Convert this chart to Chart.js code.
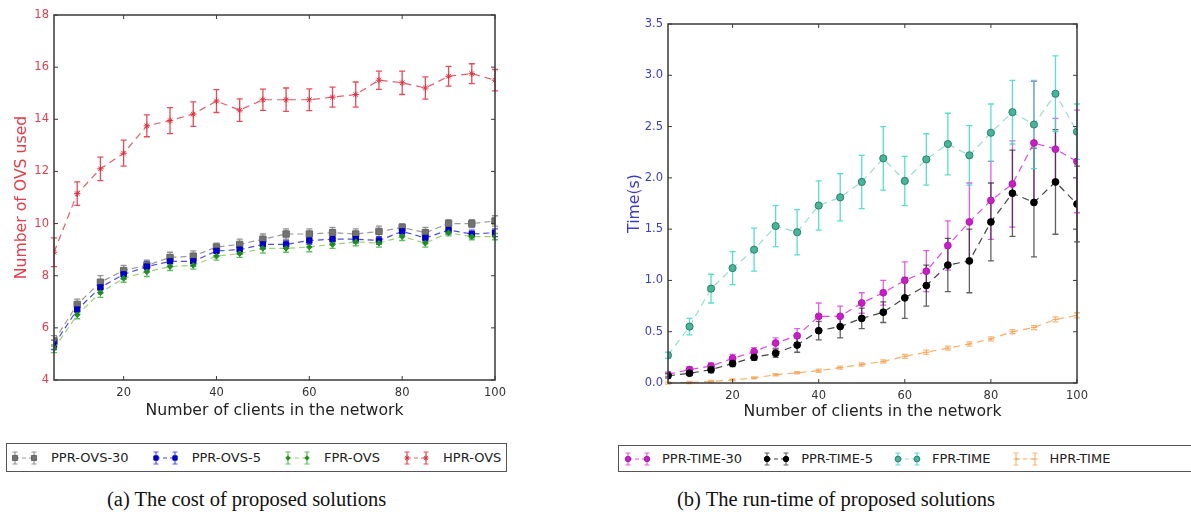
<!DOCTYPE html>
<html>
<head>
<meta charset="utf-8">
<script src="https://cdn.jsdelivr.net/npm/chart.js@4/dist/chart.umd.min.js"></script>
<style>
  body { margin: 0; background: #fff; width: 1191px; height: 516px; overflow: hidden; position: relative; }
  canvas.plot { position: absolute; top: 0; }
  .legend { position: absolute; box-sizing: border-box; border: 1.5px solid #555; display: flex; align-items: center;
            font-family: 'DejaVu Sans', sans-serif; font-size: 13px; color: #222; white-space: nowrap; }
  .legend canvas { display: block; }
  .legend .item { display: flex; align-items: center; }
  .caption { position: absolute; top: 488px; font-family: 'Liberation Serif', 'Times New Roman', serif; font-size: 20.5px; color: #111; white-space: nowrap; }
</style>
</head>
<body>
<canvas id="cost-chart" class="plot" width="595" height="430" style="left:0"></canvas>
<canvas id="time-chart" class="plot" width="596" height="430" style="left:595px"></canvas>
<div id="cost-legend" class="legend" style="left:6px; top:443px; width:501px; height:29px; padding-left:3px;"></div>
<div id="time-legend" class="legend" style="left:618px; top:445px; width:600px; height:27px; padding-left:4px;"></div>
<div class="caption" style="left:107px">(a) The cost of proposed solutions</div>
<div class="caption" style="left:677px">(b) The run-time of proposed solutions</div>
<script>
const clients = [5, 10, 15, 20, 25, 30, 35, 40, 45, 50, 55, 60, 65, 70, 75, 80, 85, 90, 95, 100];
const xTicks = [20, 40, 60, 80, 100];
const costTicks = [4, 6, 8, 10, 12, 14, 16, 18];
const timeTicks = [0, 0.5, 1, 1.5, 2, 2.5, 3, 3.5];

// (a) number of OVS used
const pprOvs30 = [5.5, 6.9, 7.75, 8.2, 8.4, 8.7, 8.75, 9.1, 9.2, 9.4, 9.6, 9.6, 9.65, 9.6, 9.7, 9.85, 9.65, 10.0, 10.0, 10.1];
const pprOvs30Err = [0.2, 0.2, 0.25, 0.2, 0.2, 0.2, 0.2, 0.15, 0.2, 0.2, 0.2, 0.2, 0.2, 0.2, 0.2, 0.15, 0.2, 0.15, 0.15, 0.2];
const pprOvs5 = [5.35, 6.7, 7.55, 8.05, 8.35, 8.55, 8.55, 8.95, 9.0, 9.2, 9.2, 9.35, 9.4, 9.4, 9.35, 9.7, 9.45, 9.75, 9.6, 9.65];
const pprOvs5Err = [0.18, 0.18, 0.2, 0.18, 0.2, 0.18, 0.18, 0.18, 0.18, 0.18, 0.15, 0.15, 0.15, 0.15, 0.15, 0.15, 0.15, 0.15, 0.15, 0.15];
const fprOvs = [5.2, 6.5, 7.35, 7.9, 8.15, 8.35, 8.4, 8.75, 8.85, 9.05, 9.05, 9.1, 9.2, 9.3, 9.25, 9.5, 9.25, 9.65, 9.5, 9.5];
const fprOvsErr = [0.15, 0.15, 0.18, 0.15, 0.18, 0.15, 0.15, 0.15, 0.15, 0.18, 0.15, 0.18, 0.15, 0.15, 0.15, 0.15, 0.15, 0.12, 0.12, 0.12];
const hprOvs = [8.9, 11.15, 12.1, 12.7, 13.75, 13.95, 14.2, 14.7, 14.35, 14.75, 14.75, 14.75, 14.85, 14.95, 15.5, 15.4, 15.2, 15.65, 15.75, 15.5];
const hprOvsErr = [0.55, 0.45, 0.45, 0.5, 0.42, 0.5, 0.47, 0.44, 0.43, 0.41, 0.45, 0.42, 0.38, 0.48, 0.35, 0.45, 0.43, 0.38, 0.38, 0.41];

// (b) run time in seconds
const pprTime30 = [0.085, 0.13, 0.165, 0.24, 0.305, 0.39, 0.46, 0.65, 0.65, 0.78, 0.88, 1.0, 1.09, 1.34, 1.57, 1.78, 1.94, 2.34, 2.28, 2.16];
const pprTime30Err = [0.02, 0.03, 0.03, 0.04, 0.04, 0.05, 0.07, 0.13, 0.1, 0.1, 0.12, 0.18, 0.2, 0.24, 0.38, 0.38, 0.42, 0.6, 0.3, 0.5];
const pprTime5 = [0.07, 0.095, 0.13, 0.19, 0.25, 0.29, 0.37, 0.51, 0.55, 0.63, 0.69, 0.83, 0.95, 1.15, 1.19, 1.57, 1.85, 1.76, 1.96, 1.745];
const pprTime5Err = [0.02, 0.02, 0.03, 0.03, 0.03, 0.04, 0.07, 0.09, 0.11, 0.1, 0.1, 0.2, 0.2, 0.26, 0.31, 0.38, 0.42, 0.53, 0.51, 0.37];
const fprTime = [0.27, 0.55, 0.92, 1.12, 1.3, 1.53, 1.47, 1.73, 1.81, 1.96, 2.19, 1.97, 2.18, 2.33, 2.22, 2.44, 2.64, 2.52, 2.82, 2.45];
const fprTimeErr = [0.03, 0.08, 0.14, 0.16, 0.21, 0.2, 0.22, 0.24, 0.23, 0.26, 0.31, 0.24, 0.25, 0.3, 0.29, 0.28, 0.31, 0.43, 0.37, 0.27];
const hprTime = [0.0, 0.005, 0.015, 0.03, 0.05, 0.08, 0.1, 0.12, 0.15, 0.18, 0.21, 0.26, 0.3, 0.34, 0.38, 0.43, 0.5, 0.54, 0.62, 0.66];
const hprTimeErr = [0.01, 0.01, 0.01, 0.01, 0.01, 0.01, 0.01, 0.015, 0.015, 0.015, 0.015, 0.02, 0.02, 0.02, 0.02, 0.02, 0.02, 0.02, 0.025, 0.025];

const FONT = 'DejaVu Sans';

function series(label, values, errors, style) {
    return {
        label,
        data: clients.map((c, i) => ({ x: c, y: values[i] })),
        errors,
        borderWidth: 1.2,
        borderDash: [6, 4],
        pointBorderWidth: 1,
        tension: 0,
        fill: false,
        ...style
    };
}

// vertical error bars with caps, matplotlib style
const errorBars = {
    id: 'errorBars',
    beforeDatasetsDraw(chart) {
        const { ctx, scales: { x, y } } = chart;
        ctx.save();
        chart.data.datasets.forEach((ds) => {
            ctx.strokeStyle = ds.errorColor;
            ctx.lineWidth = 1.3;
            ctx.beginPath();
            ds.data.forEach((pt, i) => {
                const px = x.getPixelForValue(pt.x);
                const top = y.getPixelForValue(pt.y + ds.errors[i]);
                const bot = y.getPixelForValue(pt.y - ds.errors[i]);
                ctx.moveTo(px, top); ctx.lineTo(px, bot);
                ctx.moveTo(px - 3, top); ctx.lineTo(px + 3, top);
                ctx.moveTo(px - 3, bot); ctx.lineTo(px + 3, bot);
            });
            ctx.stroke();
        });
        ctx.restore();
    }
};

// box around the axes with inward ticks
const frame = {
    id: 'frame',
    afterDraw(chart) {
        const { ctx, chartArea: a, scales: { x, y } } = chart;
        ctx.save();
        ctx.strokeStyle = '#3a3a3a';
        ctx.lineWidth = 1.5;
        ctx.strokeRect(a.left, a.top, a.right - a.left, a.bottom - a.top);
        ctx.lineWidth = 1;
        ctx.beginPath();
        x.ticks.forEach((t) => {
            const p = x.getPixelForValue(t.value);
            ctx.moveTo(p, a.bottom); ctx.lineTo(p, a.bottom - 4);
            ctx.moveTo(p, a.top); ctx.lineTo(p, a.top + 4);
        });
        y.ticks.forEach((t) => {
            const p = y.getPixelForValue(t.value);
            ctx.moveTo(a.left, p); ctx.lineTo(a.left + 4, p);
            ctx.moveTo(a.right, p); ctx.lineTo(a.right - 4, p);
        });
        ctx.stroke();
        ctx.restore();
    }
};

function makeChart(canvas, datasets, cfg) {
    return new Chart(canvas, {
        type: 'line',
        data: { datasets: datasets.map((d, i) => ({ ...d, order: datasets.length - i })) },
        plugins: [errorBars, frame],
        options: {
            responsive: false,
            animation: false,
            layout: { padding: cfg.padding },
            scales: {
                x: {
                    type: 'linear',
                    min: 5,
                    max: 100,
                    afterBuildTicks: (s) => { s.ticks = xTicks.map((v) => ({ value: v })); },
                    afterFit: (s) => { s.height = cfg.xHeight; },
                    grid: { display: false, drawTicks: false },
                    border: { display: false },
                    ticks: { color: '#333', padding: 6, font: { family: FONT, size: 11.5 } },
                    title: {
                        display: true,
                        text: 'Number of clients in the network',
                        color: '#222',
                        font: { family: FONT, size: 15.7 },
                        padding: { top: 0, bottom: cfg.xTitlePad }
                    }
                },
                y: {
                    min: cfg.yTicks[0],
                    max: cfg.yTicks[cfg.yTicks.length - 1],
                    afterBuildTicks: (s) => { s.ticks = cfg.yTicks.map((v) => ({ value: v })); },
                    afterFit: (s) => { s.width = cfg.yWidth; },
                    grid: { display: false, drawTicks: false },
                    border: { display: false },
                    ticks: { color: cfg.yColor, padding: 5, font: { family: FONT, size: 11.5 }, callback: cfg.yFormat },
                    title: {
                        display: true,
                        text: cfg.yTitle,
                        color: cfg.yColor,
                        font: { family: FONT, size: 15.7 },
                        padding: { top: cfg.yTitlePad, bottom: 0 }
                    }
                }
            },
            plugins: { legend: { display: false }, tooltip: { enabled: false } }
        }
    });
}

function drawSample(canvas, ds) {
    const ctx = canvas.getContext('2d');
    const mid = canvas.height / 2;
    const xs = [5, 24];
    ctx.strokeStyle = ds.borderColor;
    ctx.lineWidth = 1.2;
    ctx.setLineDash([4, 3]);
    ctx.beginPath(); ctx.moveTo(xs[0], mid); ctx.lineTo(xs[1], mid); ctx.stroke();
    ctx.setLineDash([]);
    ctx.strokeStyle = ds.errorColor;
    ctx.beginPath();
    xs.forEach((px) => {
        ctx.moveTo(px, mid - 6); ctx.lineTo(px, mid + 6);
        ctx.moveTo(px - 2.5, mid - 6); ctx.lineTo(px + 2.5, mid - 6);
        ctx.moveTo(px - 2.5, mid + 6); ctx.lineTo(px + 2.5, mid + 6);
    });
    ctx.stroke();
    xs.forEach((px) => {
        ctx.fillStyle = ds.pointBackgroundColor;
        ctx.strokeStyle = ds.pointBorderColor;
        ctx.lineWidth = 1;
        Chart.helpers.drawPoint(ctx, { pointStyle: ds.pointStyle, radius: ds.pointRadius * 0.8, rotation: 0, borderWidth: 1 }, px, mid);
    });
}

function buildLegend(el, datasets, gaps) {
    datasets.forEach((ds) => {
        const item = document.createElement('div');
        item.className = 'item';
        item.style.marginRight = gaps.after + 'px';
        const c = document.createElement('canvas');
        c.width = 29; c.height = 22;
        c.style.marginRight = gaps.text + 'px';
        drawSample(c, ds);
        const span = document.createElement('span');
        span.textContent = ds.label;
        item.appendChild(c);
        item.appendChild(span);
        el.appendChild(item);
    });
}

const costSets = [
    series('PPR-OVS-30', pprOvs30, pprOvs30Err, {
        borderColor: 'rgba(110,110,110,0.7)', errorColor: 'rgba(120,120,120,0.8)',
        pointStyle: 'rect', pointRadius: 4.5, pointBackgroundColor: '#727272', pointBorderColor: '#666'
    }),
    series('PPR-OVS-5', pprOvs5, pprOvs5Err, {
        borderColor: 'rgba(20,20,200,0.75)', errorColor: 'rgba(40,40,230,0.8)',
        pointStyle: 'rect', pointRadius: 3.8, pointBackgroundColor: '#0000d0', pointBorderColor: '#0000b0'
    }),
    series('FPR-OVS', fprOvs, fprOvsErr, {
        borderColor: 'rgba(110,180,40,0.65)', errorColor: 'rgba(40,170,40,0.75)',
        pointStyle: 'rectRot', pointRadius: 2.8, pointBackgroundColor: '#1e8e1e', pointBorderColor: '#1e8e1e'
    }),
    series('HPR-OVS', hprOvs, hprOvsErr, {
        borderColor: 'rgba(215,40,60,0.75)', errorColor: 'rgba(225,45,60,0.85)', borderDash: [7, 5],
        pointStyle: 'star', pointRadius: 3.2, pointBackgroundColor: '#e0303f', pointBorderColor: '#e0303f'
    })
];

const timeSets = [
    series('PPR-TIME-30', pprTime30, pprTime30Err, {
        borderColor: 'rgba(210,30,210,0.8)', errorColor: 'rgba(215,40,215,0.75)', borderDash: [7, 5],
        pointStyle: 'circle', pointRadius: 3.4, pointBackgroundColor: '#c81ec8', pointBorderColor: '#b01ab0'
    }),
    series('PPR-TIME-5', pprTime5, pprTime5Err, {
        borderColor: 'rgba(20,20,20,0.8)', errorColor: 'rgba(30,30,30,0.7)', borderDash: [7, 5],
        pointStyle: 'circle', pointRadius: 3.4, pointBackgroundColor: '#000', pointBorderColor: '#000'
    }),
    series('FPR-TIME', fprTime, fprTimeErr, {
        borderColor: 'rgba(110,205,190,0.7)', errorColor: 'rgba(60,215,200,0.85)', borderDash: [7, 5],
        pointStyle: 'circle', pointRadius: 3.6, pointBackgroundColor: '#48b59b', pointBorderColor: '#2b7f6e'
    }),
    series('HPR-TIME', hprTime, hprTimeErr, {
        borderColor: 'rgba(245,160,80,0.85)', errorColor: 'rgba(245,165,90,0.8)', borderDash: [7, 5],
        pointStyle: 'line', pointRadius: 3, pointBackgroundColor: '#f5a050', pointBorderColor: '#f5a050'
    })
];

makeChart(document.getElementById('cost-chart'), costSets, {
    padding: { top: 15, right: 100, left: 0, bottom: 0 },
    xHeight: 50, yWidth: 54, xTitlePad: 10, yTitlePad: 13,
    yTicks: costTicks, yColor: '#e0404c', yTitle: 'Number of OVS used',
    yFormat: (v) => String(v)
});

makeChart(document.getElementById('time-chart'), timeSets, {
    padding: { top: 24, right: 114, left: 0, bottom: 0 },
    xHeight: 47, yWidth: 73, xTitlePad: 9, yTitlePad: 31,
    yTicks: timeTicks, yColor: '#3c3cc8', yTitle: 'Time(s)',
    yFormat: (v) => v.toFixed(1)
});

buildLegend(document.getElementById('cost-legend'), costSets, { text: 12, after: 22 });
buildLegend(document.getElementById('time-legend'), timeSets, { text: 10, after: 20 });
</script>
</body>
</html>
